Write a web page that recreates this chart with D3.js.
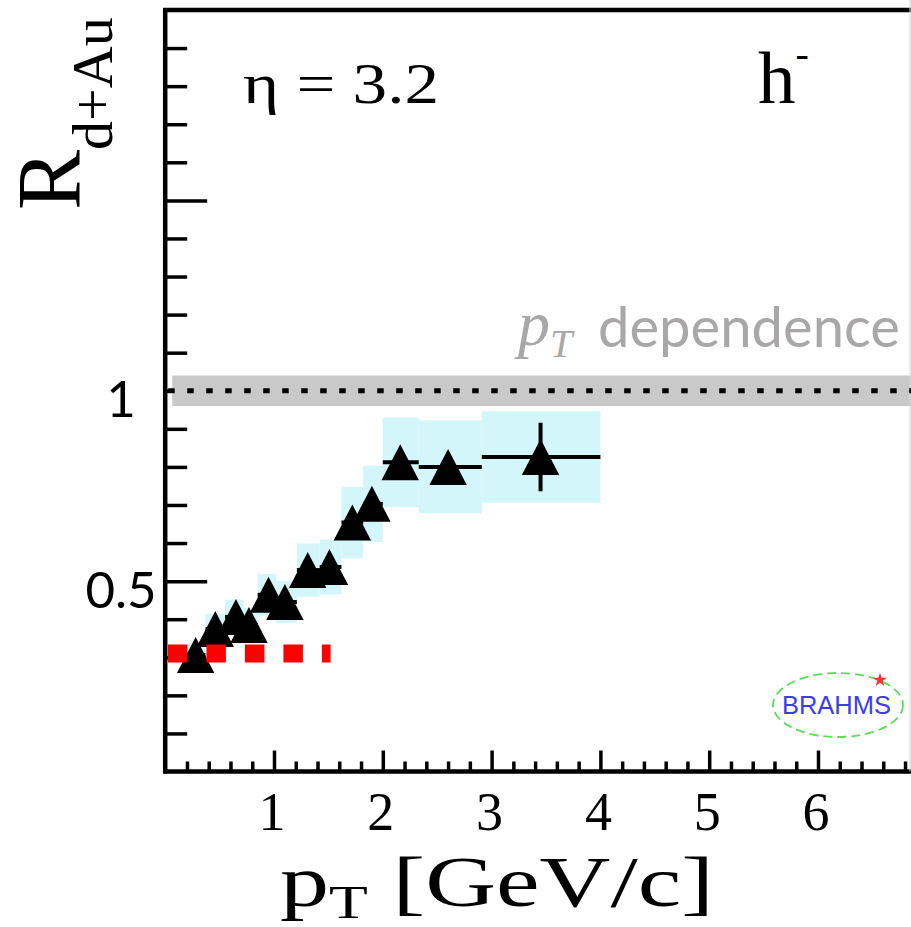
<!DOCTYPE html>
<html><head><meta charset="utf-8">
<script src="https://cdn.jsdelivr.net/npm/d3@7"></script>
<style>
html,body{margin:0;padding:0;background:#fff;overflow:hidden}
</style>
</head><body>
<svg id="c" width="911" height="927" xmlns="http://www.w3.org/2000/svg"></svg>
<script>
// ---- data ----
const ptValues   = [0.28, 0.46, 0.65, 0.77, 0.95, 1.10, 1.31, 1.51, 1.72, 1.90, 2.16, 2.60, 3.45];
const rdAuValues = [0.306, 0.374, 0.406, 0.385, 0.464, 0.445, 0.529, 0.537, 0.654, 0.703, 0.812, 0.800, 0.826];
const statErr    = [0.010, 0.010, 0.010, 0.010, 0.012, 0.012, 0.015, 0.015, 0.020, 0.020, 0.030, 0.030, 0.090];
const binLow     = [0.20, 0.37, 0.55, 0.72, 0.85, 1.02, 1.21, 1.42, 1.62, 1.82, 2.00, 2.33, 2.91];
const binHigh    = [0.37, 0.55, 0.72, 0.85, 1.02, 1.21, 1.42, 1.62, 1.82, 2.00, 2.33, 2.91, 4.00];
const sysErr     = [0.030, 0.040, 0.045, 0.045, 0.055, 0.055, 0.070, 0.072, 0.094, 0.100, 0.118, 0.122, 0.120];
const normBand   = [0.96, 1.04];          // grey normalisation band around R = 1
const normBandStart = 0.065;
const refLine    = 1.0;                   // dotted line
const redLineY   = 0.31;                  // red dashed reference
const redLineX   = [0.025, 1.52];
const xDomain    = [0, 7];
const yDomain    = [0, 2];
const xMajorTicks = [1, 2, 3, 4, 5, 6, 7];
const xTickLabels = ["1", "2", "3", "4", "5", "6"];
const xMinorTicks = d3.range(1, 35).map(i => i / 5).filter(v => Math.abs(v - Math.round(v)) > 1e-6);
const yMajorTicks = [0.5, 1.0, 1.5];
const yTickLabels = ["0.5", "1"];
const yMinorTicks = d3.range(1, 20).map(i => i / 10).filter(v => yMajorTicks.indexOf(v) < 0);

// ---- layout ----
const SERIF = '"Liberation Serif", "Times New Roman", serif';
const SANS = '"Lato", "Open Sans", sans-serif';
const ARIAL = '"Liberation Sans", Arial, sans-serif';
const svg = d3.select("#c");
const x = d3.scaleLinear().domain(xDomain).range([165.2, 165.2 + 7 * 108.8]);
const y = d3.scaleLinear().domain(yDomain).range([771.5, 10]);
const data = ptValues.map((p, i) => ({p, r: rdAuValues[i], se: statErr[i], lo: binLow[i], hi: binHigh[i], sys: sysErr[i]}));

// systematic boxes
svg.append("g").selectAll("rect").data(data).join("rect")
  .attr("x", d => x(d.lo)).attr("width", d => x(d.hi) - x(d.lo))
  .attr("y", d => y(d.r + d.sys)).attr("height", d => y(d.r - d.sys) - y(d.r + d.sys))
  .attr("fill", "#d3f6fa");

// axes ticks
const tickStyle = g => { g.select(".domain").remove(); g.selectAll(".tick line").attr("stroke", "#000").attr("stroke-width", 3.5); g.selectAll("text").remove(); };
svg.append("g").attr("transform", `translate(${x(0)},0)`)
  .call(d3.axisRight(y).tickValues(yMinorTicks).tickSize(22).tickFormat("")).call(tickStyle);
svg.append("g").attr("transform", `translate(${x(0)},0)`)
  .call(d3.axisRight(y).tickValues(yMajorTicks).tickSize(42).tickFormat("")).call(tickStyle);
svg.append("g").attr("transform", `translate(0,${y(0)})`)
  .call(d3.axisTop(x).tickValues(xMinorTicks).tickSize(10).tickFormat("")).call(tickStyle);
svg.append("g").attr("transform", `translate(0,${y(0)})`)
  .call(d3.axisTop(x).tickValues(xMajorTicks).tickSize(21).tickFormat("")).call(tickStyle);

// normalisation band
svg.append("rect").attr("x", x(normBandStart)).attr("width", x(xDomain[1]) - x(normBandStart))
  .attr("y", y(normBand[1])).attr("height", y(normBand[0]) - y(normBand[1])).attr("fill", "#c9c9c9");

// frame
const frame = svg.append("g").attr("stroke", "#000").attr("stroke-width", 4.5).attr("fill", "none");
frame.append("line").attr("x1", x(0)).attr("x2", x(0)).attr("y1", y(yDomain[1]) - 2).attr("y2", y(0) + 2);
frame.append("line").attr("x1", x(0) - 2).attr("x2", x(xDomain[1])).attr("y1", y(0)).attr("y2", y(0));
frame.append("line").attr("x1", x(0) - 2).attr("x2", x(xDomain[1])).attr("y1", y(yDomain[1])).attr("y2", y(yDomain[1]));
svg.append("line").attr("x1", 910).attr("x2", 910).attr("y1", 0).attr("y2", y(0)).attr("stroke", "#d8d8d8").attr("stroke-width", 1);

// dotted line at 1
svg.append("line").attr("x1", x(0) + 3).attr("x2", x(xDomain[1])).attr("y1", y(refLine)).attr("y2", y(refLine))
  .attr("stroke", "#000").attr("stroke-width", 5).attr("stroke-dasharray", "6.5,12.5");

// error bars
const eb = svg.append("g").attr("stroke", "#000").attr("stroke-width", 4);
eb.selectAll("line.h").data(data).join("line").attr("class", "h")
  .attr("x1", d => x(d.lo)).attr("x2", d => x(d.hi)).attr("y1", d => y(d.r)).attr("y2", d => y(d.r));
eb.selectAll("line.v").data(data).join("line").attr("class", "v")
  .attr("x1", d => x(d.p)).attr("x2", d => x(d.p)).attr("y1", d => y(d.r - d.se)).attr("y2", d => y(d.r + d.se));

// triangle markers
const triUp = { draw(ctx, size) { const s = Math.sqrt(size); ctx.moveTo(0, -s / 2); ctx.lineTo(s * 0.52, s / 2); ctx.lineTo(-s * 0.52, s / 2); ctx.closePath(); } };
svg.append("g").selectAll("path").data(data).join("path")
  .attr("transform", d => `translate(${x(d.p)},${y(d.r)})`)
  .attr("d", d3.symbol().type(triUp).size(36 * 36)).attr("fill", "#000");

// red dashed line
svg.append("line").attr("x1", x(redLineX[0])).attr("x2", x(redLineX[1])).attr("y1", y(redLineY)).attr("y2", y(redLineY))
  .attr("stroke", "#ff0000").attr("stroke-width", 18).attr("stroke-dasharray", "19.5,19");

// tick labels
svg.append("g").selectAll("text").data(xTickLabels).join("text")
  .style("font-family", SERIF).style("font-size", "54px")
  .attr("x", d => x(+d) - 2).attr("y", 830).attr("text-anchor", "middle").text(d => d);
svg.append("g").selectAll("text").data(yTickLabels).join("text")
  .style("font-family", SANS).style("font-size", "51px")
  .attr("x", 121).attr("y", d => y(+d) + 26.5).attr("text-anchor", "middle").text(d => d);

// helper: stretch horizontally to fit an ink box
function fit(sel, left, width) {
  const b = sel.node().getBBox(); const sx = width / b.width;
  sel.attr("transform", `translate(${left - b.x * sx},0) scale(${sx},1)`);
}

// axis titles
const xt = svg.append("text").style("font-family", SERIF).style("font-size", "71px").attr("x", 0).attr("y", 906);
xt.append("tspan").text("p");
xt.append("tspan").style("font-size", "46px").attr("dy", 12).text("T");
xt.append("tspan").attr("dy", -12).text(" [GeV/c]");
fit(xt, 280, 434);

const yt = svg.append("text").style("font-family", SERIF).style("font-size", "90px").attr("transform", "translate(80,210) rotate(-90)");
yt.append("tspan").text("R");
yt.append("tspan").style("font-size", "58px").attr("dy", 32).text("d+Au");

// labels
const eta = svg.append("text").style("font-family", SERIF).style("font-size", "58px").attr("x", 0).attr("y", 103.5).text("η = 3.2");
fit(eta, 243, 196);
const h = svg.append("text").style("font-family", SERIF).style("font-size", "75px").attr("x", 758).attr("y", 103);
h.append("tspan").text("h");
h.append("tspan").style("font-size", "40px").attr("dy", -36).text("-");

const ptd = svg.append("text").style("font-family", SERIF).style("font-style", "italic").style("font-size", "64px")
  .attr("x", 518).attr("y", 345).attr("fill", "#a9a7a7");
ptd.append("tspan").text("p");
ptd.append("tspan").style("font-size", "40px").attr("dy", 12).text("T");
const dep = svg.append("text").style("font-family", SANS).style("font-size", "56px").attr("x", 0).attr("y", 347).attr("fill", "#a9a7a7").text("dependence");
fit(dep, 598, 302);

// BRAHMS logo
const logo = svg.append("g");
logo.append("ellipse").attr("cx", 838).attr("cy", 705).attr("rx", 65).attr("ry", 32)
  .attr("fill", "none").attr("stroke", "#55e055").attr("stroke-width", 1.8).attr("stroke-dasharray", "9,5");
logo.append("text").style("font-family", ARIAL).style("font-size", "25.5px").attr("x", 836.5).attr("y", 713.5).attr("text-anchor", "middle")
  .attr("fill", "#3b3bf5").text("BRAHMS");
logo.append("path").attr("transform", "translate(880,680)").attr("d", d3.symbol().type(d3.symbolStar).size(60)).attr("fill", "#ff3030");
</script>
</body></html>
